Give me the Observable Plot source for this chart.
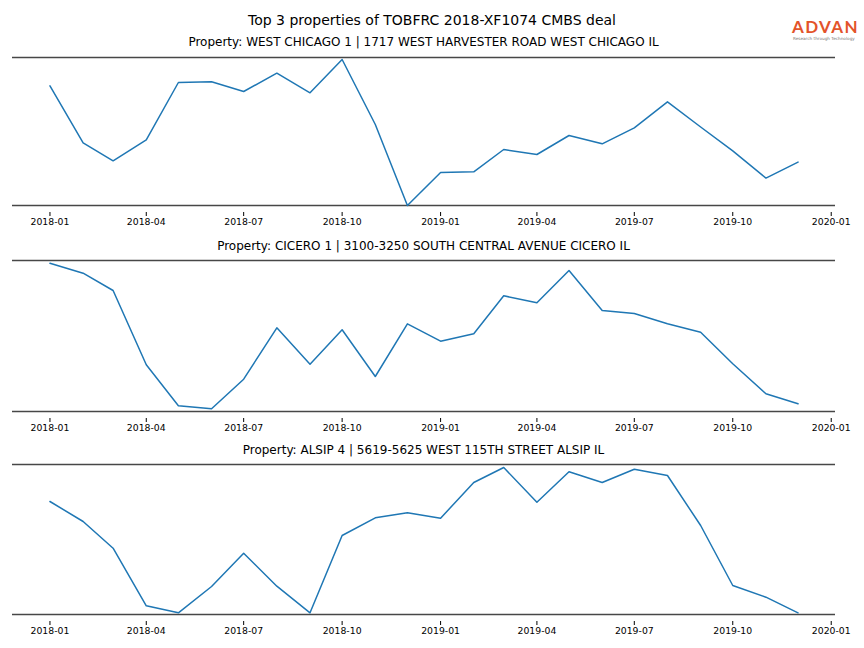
<!DOCTYPE html>
<html>
<head>
<meta charset="utf-8">
<script src="https://cdn.jsdelivr.net/npm/d3@7"></script>
<script src="https://cdn.jsdelivr.net/npm/@observablehq/plot@0.6"></script>
<style>
  html, body { margin: 0; padding: 0; background: #fff; }
  #root { position: relative; width: 864px; height: 648px; overflow: hidden; font-family: "DejaVu Sans", sans-serif; }
  .title { position: absolute; left: 0; width: 864px; text-align: center; font-size: 14px; line-height: 14px; color: #000; }
  .sub { position: absolute; left: 12px; width: 823px; text-align: center; font-size: 12px; line-height: 12px; color: #000; }
  .panel { position: absolute; left: 0; }
  .brand { position: absolute; left: 792px; top: 18px; font-family: Lato, sans-serif; font-size: 17px; line-height: 17px; color: #e3532a; letter-spacing: 1.4px; font-weight: 700; }
  .tag { position: absolute; left: 793px; top: 36.5px; font-family: "DejaVu Sans", sans-serif; font-size: 4.2px; line-height: 4.2px; color: #777; white-space: nowrap; }
</style>
</head>
<body>
<div id="root"></div>
<script>
const chartTitle = "Top 3 properties of TOBFRC 2018-XF1074 CMBS deal";
const months = ["2018-01","2018-02","2018-03","2018-04","2018-05","2018-06","2018-07","2018-08","2018-09","2018-10","2018-11","2018-12",
                "2019-01","2019-02","2019-03","2019-04","2019-05","2019-06","2019-07","2019-08","2019-09","2019-10","2019-11","2019-12"];
const propertyNames = [
  "Property: WEST CHICAGO 1 | 1717 WEST HARVESTER ROAD WEST CHICAGO IL",
  "Property: CICERO 1 | 3100-3250 SOUTH CENTRAL AVENUE CICERO IL",
  "Property: ALSIP 4 | 5619-5625 WEST 115TH STREET ALSIP IL"
];
const westChicago = [119.7, 62.7, 44.7, 65.7, 123, 123.7, 114, 132.3, 112.7, 146, 81, 0,
                     33, 33.7, 56, 51, 70, 61.7, 77.7, 103.7, 78.5, 54.7, 27.4, 43.4];
const cicero = [148.3, 138.3, 121, 46.7, 5.7, 2.7, 32.3, 83.7, 47.3, 81.7, 35, 87.7,
                70.3, 77.7, 115.7, 108.7, 141, 101, 98, 87.7, 79.3, 47.7, 17.7, 7.7];
const alsip = [113, 93, 66.3, 8.7, 1.7, 28, 61.3, 28.3, 1.7, 79, 96.7, 101.7,
               96.3, 132, 147, 112.3, 142.7, 132, 145.3, 139, 89, 29, 17.3, 1.7];
const yTops = [148, 151, 150];
const xTicks = ["2018-01","2018-04","2018-07","2018-10","2019-01","2019-04","2019-07","2019-10","2020-01"];
const brandName = "ADVAN";
const brandTag = "Research through Technology";

const root = document.getElementById("root");
const parse = d3.utcParse("%Y-%m");

const t = document.createElement("div");
t.className = "title"; t.style.top = "13px"; t.textContent = chartTitle;
root.appendChild(t);

const b = document.createElement("div");
b.className = "brand"; b.textContent = brandName; root.appendChild(b);
const tg = document.createElement("div");
tg.className = "tag"; tg.textContent = brandTag; root.appendChild(tg);

const series = [westChicago, cicero, alsip];
const layout = [
  {sub: 36, top: 50, height: 184},
  {sub: 240, top: 253, height: 187},
  {sub: 444, top: 457, height: 186}
];

series.forEach((vals, i) => {
  const data = months.map((m, j) => ({date: parse(m), value: vals[j]}));
  const s = document.createElement("div");
  s.className = "sub"; s.style.top = layout[i].sub + "px"; s.textContent = propertyNames[i];
  root.appendChild(s);

  const chart = Plot.plot({
    width: 864,
    height: layout[i].height,
    marginLeft: 12, marginRight: 29, marginTop: 7, marginBottom: 22,
    style: {fontFamily: "DejaVu Sans, sans-serif", fontSize: "9.3px", color: "#000", background: "transparent", overflow: "visible"},
    x: {type: "utc", domain: [new Date(Date.UTC(2017, 10, 27)), new Date(Date.UTC(2020, 0, 5))],
        ticks: xTicks.map(parse), tickFormat: d3.utcFormat("%Y-%m"), tickSize: 4, tickPadding: 2, label: null},
    y: {domain: [0, yTops[i]], insetBottom: 7, axis: null},
    marks: [
      Plot.ruleY([0, yTops[i]], {stroke: "#474747", strokeWidth: 1.7}),
      Plot.lineY(data, {x: "date", y: "value", stroke: "#1f77b4", strokeWidth: 1.5})
    ]
  });
  chart.classList.add("panel");
  chart.style.top = layout[i].top + "px";
  root.appendChild(chart);
});
</script>
</body>
</html>
